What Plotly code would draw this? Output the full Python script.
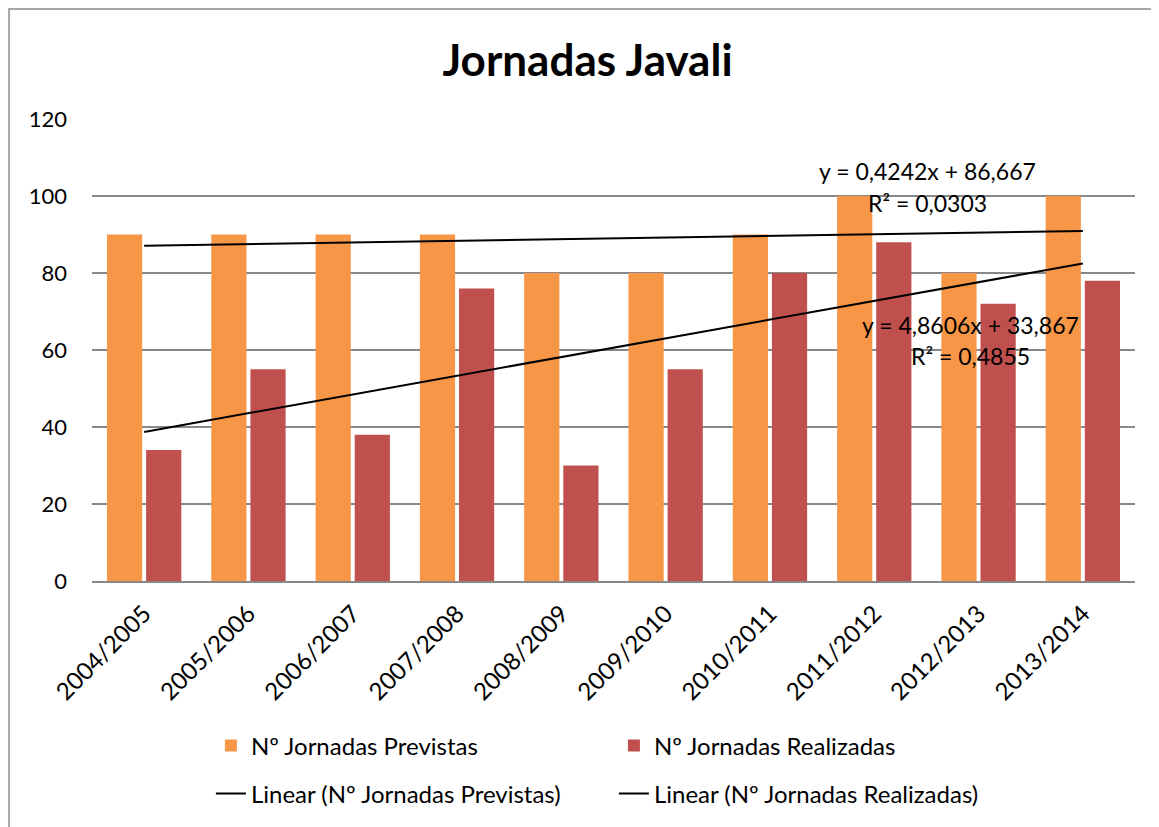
import numpy as np
import plotly.graph_objects as go

temporadas = ["2004/2005", "2005/2006", "2006/2007", "2007/2008", "2008/2009",
              "2009/2010", "2010/2011", "2011/2012", "2012/2013", "2013/2014"]
previstas = [90, 90, 90, 90, 80, 80, 90, 100, 80, 100]
realizadas = [34, 55, 38, 76, 30, 55, 80, 88, 72, 78]

FONT = "Lato"
ORANGE = "#F79646"
RED = "#C0504D"
GRID = "#888888"


def linear_fit(values):
    """Excel-style linear trendline over x = 1..n."""
    x = np.arange(1, len(values) + 1)
    y = np.array(values, dtype=float)
    slope, intercept = np.polyfit(x, y, 1)
    fitted = slope * x + intercept
    r2 = 1 - ((y - fitted) ** 2).sum() / ((y - y.mean()) ** 2).sum()
    return fitted, slope, intercept, r2


def comma(v, nd):
    return f"{v:.{nd}f}".replace(".", ",")


fit_p, m_p, b_p, r2_p = linear_fit(previstas)
fit_r, m_r, b_r, r2_r = linear_fit(realizadas)

fig = go.Figure()

fig.add_trace(go.Bar(
    x=temporadas, y=previstas,
    name="Nº Jornadas Previstas",
    marker_color=ORANGE, marker_line_width=0,
    legend="legend",
))
fig.add_trace(go.Bar(
    x=temporadas, y=realizadas,
    name="Nº Jornadas Realizadas",
    marker_color=RED, marker_line_width=0,
    legend="legend",
))
fig.add_trace(go.Scatter(
    x=temporadas, y=fit_p, mode="lines",
    name="Linear (Nº Jornadas Previstas)",
    line=dict(color="black", width=2),
    legend="legend2",
))
fig.add_trace(go.Scatter(
    x=temporadas, y=fit_r, mode="lines",
    name="Linear (Nº Jornadas Realizadas)",
    line=dict(color="black", width=2),
    legend="legend2",
))

# trendline equations
labels = [
    (0.8006, 106.5, f"y = {comma(m_p, 4)}x + {comma(b_p, 3)}"),
    (0.8006, 98.2, f"R² = {comma(r2_p, 4)}"),
    (0.8420, 66.5, f"y = {comma(m_r, 4)}x + {comma(b_r, 3)}"),
    (0.8420, 58.4, f"R² = {comma(r2_r, 4)}"),
]
for ax, ay, txt in labels:
    fig.add_annotation(
        x=ax, xref="paper", y=ay, yref="y", text=txt, showarrow=False,
        font=dict(family=FONT, size=23, color="black"),
        xanchor="center", yanchor="middle",
    )

# chart frame
fig.add_shape(
    type="rect", xref="paper", yref="paper",
    x0=-0.0795, x1=1.2, y0=-0.8, y1=1.238,
    line=dict(color="#a6a6a6", width=2), layer="below",
)

legend_common = dict(
    orientation="h",
    x=0.114, xanchor="left",
    yanchor="middle",
    entrywidth=358, entrywidthmode="pixels",
    font=dict(family=FONT, size=24, color="black"),
    traceorder="normal",
    bgcolor="rgba(0,0,0,0)",
)

fig.update_layout(
    width=1159, height=827,
    title=dict(
        text="<b>Jornadas Javali</b>",
        x=0.5, xanchor="center", y=0.936, yanchor="middle",
        font=dict(family=FONT, size=44, color="black"),
    ),
    font=dict(family=FONT, size=22, color="black"),
    barmode="group",
    bargap=0.25,
    bargroupgap=0.1,
    plot_bgcolor="white",
    paper_bgcolor="white",
    showlegend=True,
    legend=dict(legend_common, y=-0.357),
    legend2=dict(legend_common, y=-0.461),
    margin=dict(l=84, r=32, t=111, b=254),
    xaxis=dict(
        tickangle=-45,
        showgrid=False,
        showline=True, linecolor=GRID, linewidth=2,
        ticks="",
        ticklabelstandoff=7,
        tickfont=dict(family=FONT, size=24, color="black"),
    ),
    yaxis=dict(
        range=[0, 120], dtick=20,
        showgrid=True, gridcolor=GRID, gridwidth=2,
        zeroline=False, showline=False,
        ticks="",
        ticklabelstandoff=24,
        tickfont=dict(family=FONT, size=22, color="black"),
    ),
)

fig.write_html("out.html")
